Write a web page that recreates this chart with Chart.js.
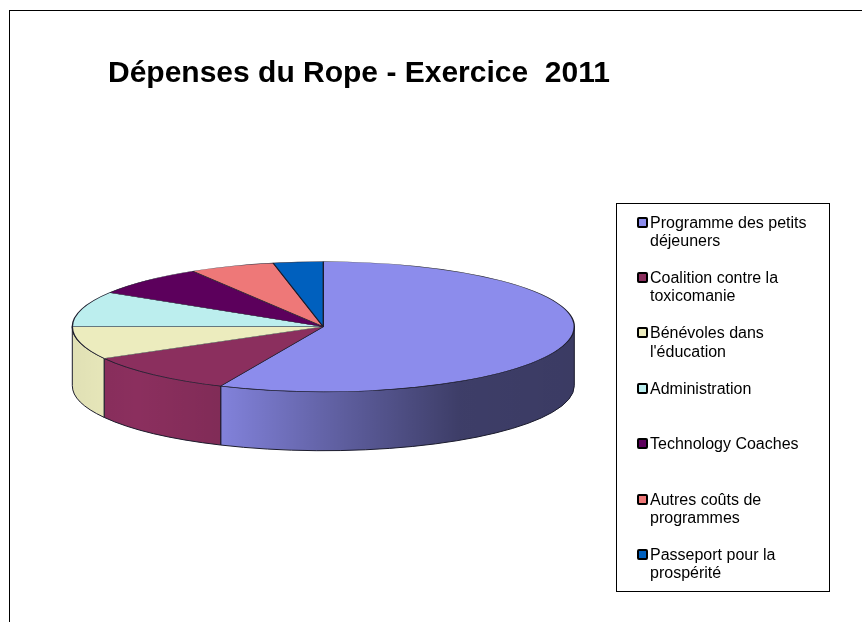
<!DOCTYPE html>
<html lang="fr">
<head>
<meta charset="utf-8">
<title>Dépenses du Rope</title>
<script src="https://cdn.jsdelivr.net/npm/chart.js@4"></script>
<style>
    body { margin: 0; background: #fff; }
    #wrap { position: relative; width: 862px; height: 622px; overflow: hidden; }
    #frame { position: absolute; left: 9px; top: 10px; right: 0; bottom: 0; border-top: 1px solid #000; border-left: 1px solid #000; }
    #legendBox { position: absolute; left: 616px; top: 203px; width: 212px; height: 387px; border: 1px solid #000; }
    .item { position: absolute; left: 33px; font: 16px/18.4px "Liberation Sans", Arial, sans-serif; color: #000; white-space: pre; }
    .mark { position: absolute; left: -13px; top: 3px; width: 7px; height: 7px; border: 2px solid #000; border-radius: 2px; }
    canvas { position: absolute; left: 0; top: 0; }
</style>
</head>
<body>
<div id="wrap">
    <div id="frame"></div>
    <canvas id="pieChart" width="862" height="622"></canvas>
    <div id="legendBox"></div>
</div>
<script>
const chartTitle = 'Dépenses du Rope - Exercice  2011';
const categories = [
    'Programme des petits\ndéjeuners',
    'Coalition contre la\ntoxicomanie',
    "Bénévoles dans\nl'éducation",
    'Administration',
    'Technology Coaches',
    'Autres coûts de\nprogrammes',
    'Passeport pour la\nprospérité'
];
// parts en %
const shares = [56.7, 10.2, 8.1, 8.8, 7.5, 5.5, 3.2];
const sliceColors = ['#8c8cec', '#8b2f5e', '#ececbe', '#bceeee', '#5c005c', '#ee7878', '#0060be'];

// Effet 3D : aplatissement du disque + paroi latérale
const squash = 0.259;
const depth = 59;
const wallShade = [[0, 0.05], [0.13, 0], [0.3, 0.08], [0.53, 0.32], [0.77, 0.56], [1, 0.58]];

const pie3d = {
    id: 'pie3d',
    afterLayout(chart) {
        // le titre déborde de la zone du disque
        chart.titleBlock.right = chart.width;
    },
    beforeDatasetsDraw(chart) {
        const ctx = chart.ctx;
        const arcs = chart.getDatasetMeta(0).data;
        const cx = arcs[0].x, cy = arcs[0].y, r = arcs[0].outerRadius;

        const shade = ctx.createLinearGradient(cx - r, 0, cx + r, 0);
        wallShade.forEach(s => shade.addColorStop(s[0], 'rgba(0,0,0,' + s[1] + ')'));

        arcs.forEach((arc, i) => {
            const lo = Math.max(arc.startAngle, 0);
            const hi = Math.min(arc.endAngle, Math.PI);
            if (lo >= hi) return;
            ctx.beginPath();
            ctx.ellipse(cx, cy, r, r * squash, 0, lo, hi);
            ctx.ellipse(cx, cy + depth, r, r * squash, 0, hi, lo, true);
            ctx.closePath();
            ctx.fillStyle = sliceColors[i];
            ctx.fill();
            ctx.fillStyle = shade;
            ctx.fill();
            ctx.strokeStyle = '#1c1c2c';
            ctx.lineWidth = 1;
            ctx.stroke();
        });

        ctx.save();
        ctx.translate(cx, cy);
        ctx.scale(1, squash);
        ctx.translate(-cx, -cy);
    },
    afterDatasetsDraw(chart) {
        chart.ctx.restore();
    }
};

new Chart(document.getElementById('pieChart'), {
    type: 'pie',
    data: {
        labels: categories.map(c => c.replace('\n', ' ')),
        datasets: [{
            data: shares,
            backgroundColor: sliceColors,
            borderColor: '#1c1c2c',
            borderWidth: 1.4,
            radius: 251,
            clip: false
        }]
    },
    options: {
        responsive: false,
        animation: false,
        events: [],
        layout: { padding: { left: 108, right: 323.4, top: 56, bottom: 60.6 } },
        plugins: {
            legend: { display: false },
            tooltip: { enabled: false },
            title: {
                display: true,
                text: chartTitle,
                align: 'start',
                color: '#000',
                padding: 0,
                font: { family: '"Liberation Sans", Arial, sans-serif', size: 30, weight: 'bold', lineHeight: 1.2 }
            }
        }
    },
    plugins: [pie3d]
});

// Légende à droite
const legendBox = document.getElementById('legendBox');
categories.forEach((cat, i) => {
    const item = document.createElement('div');
    item.className = 'item';
    item.style.top = (9.5 + i * 55.4) + 'px';
    item.textContent = cat;
    const mark = document.createElement('span');
    mark.className = 'mark';
    mark.style.background = sliceColors[i];
    item.appendChild(mark);
    legendBox.appendChild(item);
});
</script>
</body>
</html>
